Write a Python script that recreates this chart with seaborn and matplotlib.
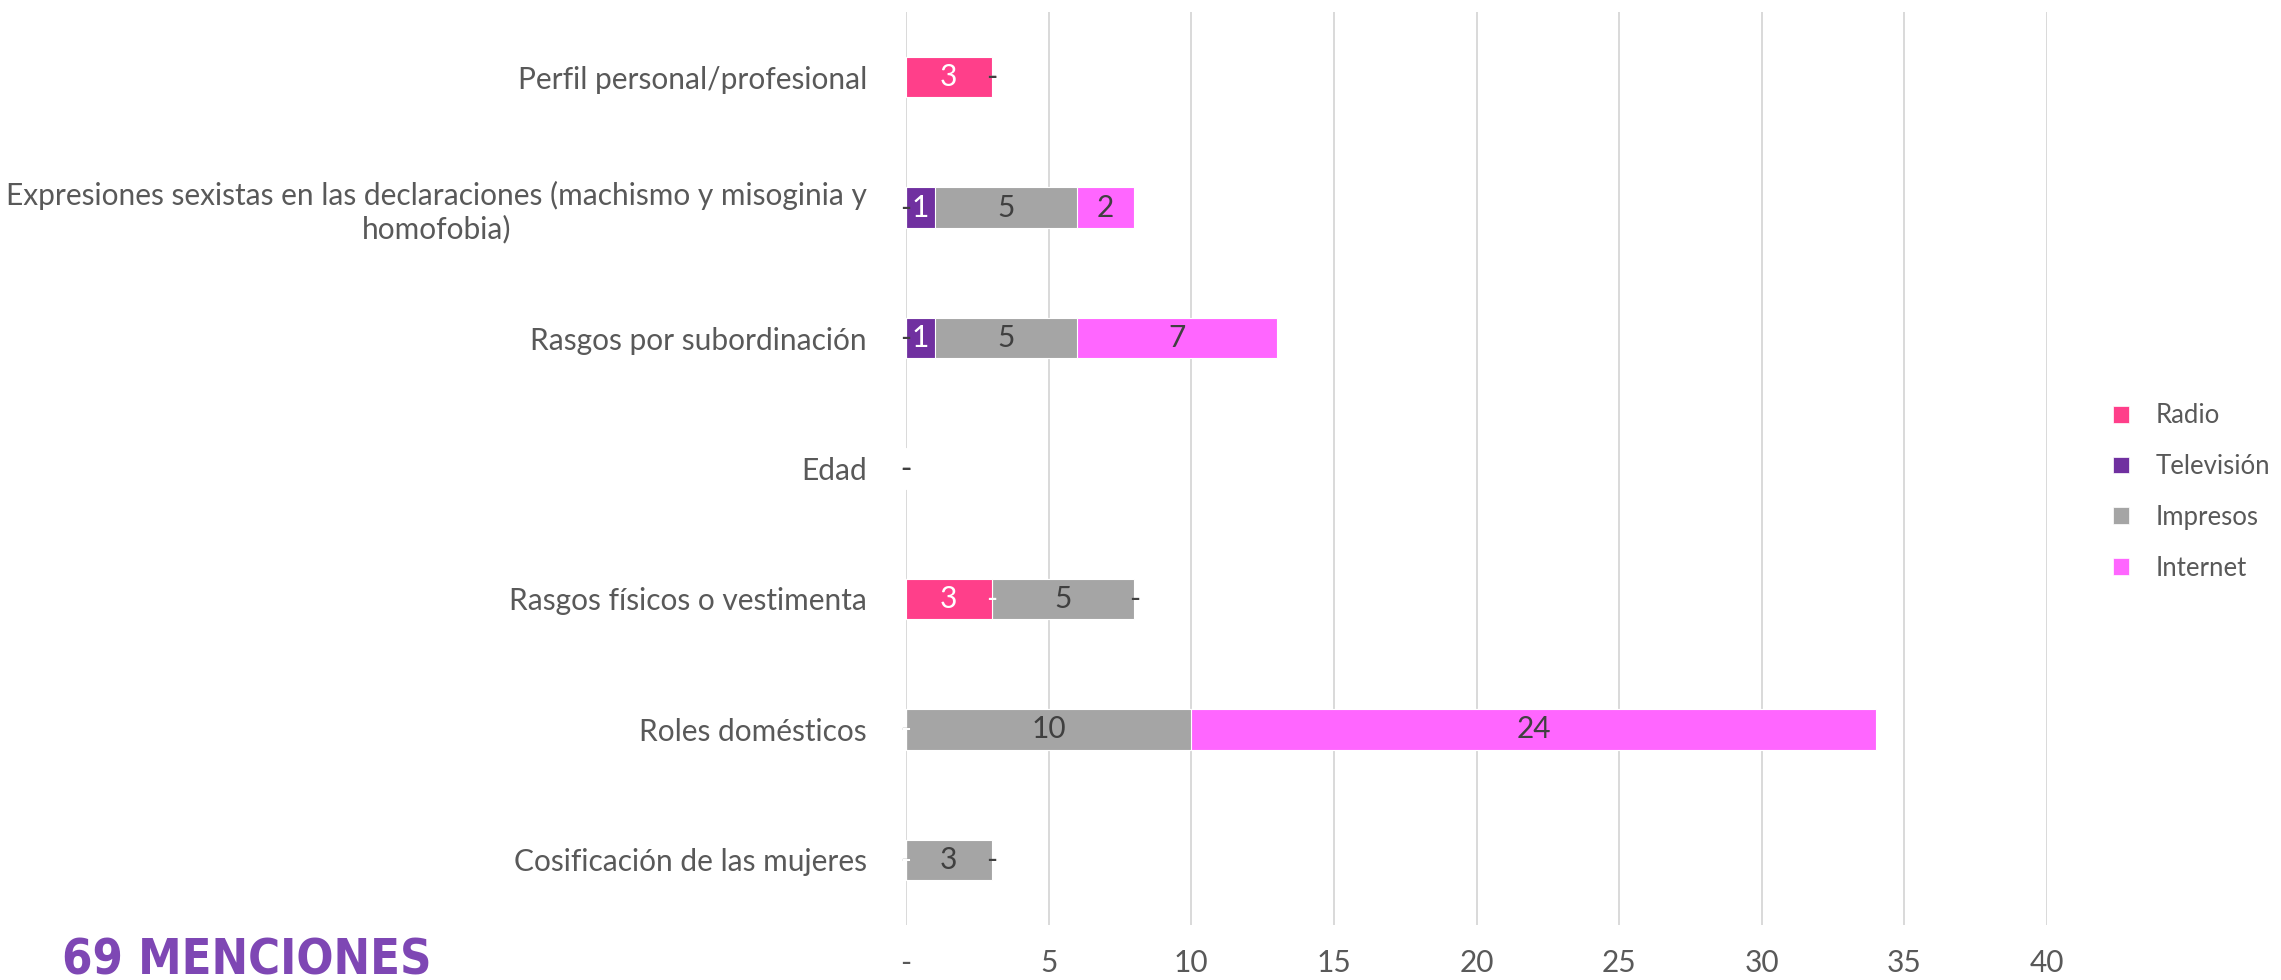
import matplotlib
matplotlib.use("Agg")
import matplotlib.pyplot as plt
from matplotlib import font_manager
from matplotlib.patches import Patch
import numpy as np
import pandas as pd
import seaborn as sns

# Categories (top to bottom) and mentions per media type
categories = [
    "Perfil personal/profesional",
    "Expresiones sexistas en las declaraciones (machismo y misoginia y\nhomofobia)",
    "Rasgos por subordinación",
    "Edad",
    "Rasgos físicos o vestimenta",
    "Roles domésticos",
    "Cosificación de las mujeres",
]
series_names = ["Radio", "Televisión", "Impresos", "Internet"]
radio = [3, 0, 0, 0, 3, 0, 0]
television = [0, 1, 1, 0, 0, 0, 0]
impresos = [0, 5, 5, 0, 5, 10, 3]
internet = [0, 2, 7, 0, 0, 24, 0]
x_ticks = [0, 5, 10, 15, 20, 25, 30, 35, 40]
x_tick_labels = ["-", "5", "10", "15", "20", "25", "30", "35", "40"]
headline = "69 MENCIONES"

colors = ["#FF3F8A", "#7030A0", "#A5A5A5", "#FF66FF"]
label_colors = ["#FFFFFF", "#FFFFFF", "#404040", "#404040"]
zero_label_colors = ["#404040", "#FFFFFF", "#404040", "#404040"]
text_color = "#595959"

sns.set_theme(style="white")
available = {f.name for f in font_manager.fontManager.ttflist}
plt.rcParams["font.family"] = ["Lato", "DejaVu Sans"]

fig = plt.figure(figsize=(22.81, 9.8), dpi=100)
ax = fig.add_axes([906 / 2281, 1 - 925 / 980, (2047 - 906) / 2281, (925 - 12) / 980])

values = np.array([radio, television, impresos, internet], dtype=float)
cum = np.cumsum(values, axis=0)
starts = cum - values

# Stacked bars: draw cumulative totals from widest to narrowest
for i in range(len(series_names) - 1, -1, -1):
    df = pd.DataFrame({"cat": categories, "val": cum[i]})
    sns.barplot(data=df, x="val", y="cat", order=categories, orient="h",
                color=colors[i], width=0.31, saturation=1, ax=ax,
                edgecolor="white", linewidth=0.8, zorder=3)

fs = 21.5
for i in range(len(series_names)):
    for j in range(len(categories)):
        v = values[i, j]
        if v == 0:
            ax.text(starts[i, j], j, "-", ha="center", va="center",
                    color=zero_label_colors[i], fontsize=fs, zorder=5)
        else:
            ax.text(starts[i, j] + v / 2, j, f"{int(v)}", ha="center", va="center",
                    color=label_colors[i], fontsize=fs, zorder=5)

ax.set_xlim(0, 40)
ax.set_ylim(len(categories) - 0.5, -0.5)
ax.set_xticks(x_ticks)
ax.set_xticklabels(x_tick_labels)
ax.set_xlabel("")
ax.set_ylabel("")
for s in ax.spines.values():
    s.set_visible(False)
ax.grid(axis="x", color="#D9D9D9", linewidth=1.4, zorder=0)
ax.grid(axis="y", visible=False)
ax.set_axisbelow(True)
ax.tick_params(axis="x", length=0, pad=17, labelsize=fs, labelcolor=text_color)
ax.tick_params(axis="y", length=0, pad=28, labelsize=fs, labelcolor=text_color)
for lbl in ax.get_yticklabels():
    lbl.set_multialignment("center")

handles = [Patch(facecolor=c, edgecolor="white", linewidth=0.5) for c in colors]
fig.legend(handles, series_names, loc="center left",
           bbox_to_anchor=(2090 / 2281, 1 - 492 / 980), frameon=False,
           fontsize=18.5, labelcolor=text_color, handlelength=0.62, handleheight=0.62,
           handletextpad=1.05, labelspacing=1.0)

# Headline in a condensed bold face
if "Liberation Sans Narrow" in available:
    head_family = ["Liberation Sans Narrow", "DejaVu Sans"]
    head_kw = {}
    head_fs = 44
else:
    head_family = ["DejaVu Sans"]
    head_kw = {"fontstretch": "condensed"}
    head_fs = 35
fig.text(62 / 2281, 1 - 936 / 980, headline, ha="left", va="top",
         fontsize=head_fs, fontweight="bold", color="#7E47B4", family=head_family, **head_kw)

fig.savefig("out.png", dpi=100)
